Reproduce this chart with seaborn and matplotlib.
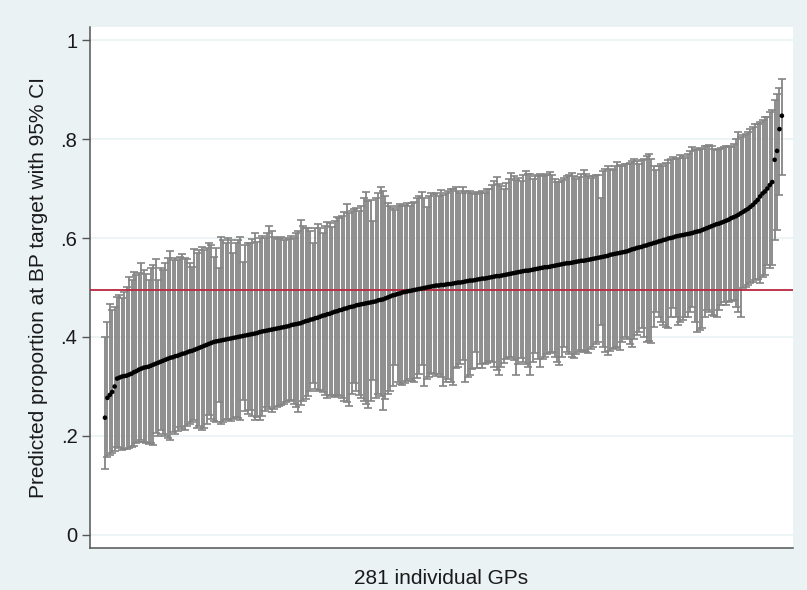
import numpy as np
import pandas as pd
import seaborn as sns
import matplotlib.pyplot as plt

# predicted proportion at BP target per GP (sorted), with 95% CI
estimate = [
    0.237, 0.277, 0.283, 0.289, 0.300, 0.316, 0.318, 0.320, 0.321, 0.322,
    0.324, 0.326, 0.329, 0.331, 0.334, 0.336, 0.338, 0.339, 0.340, 0.342,
    0.344, 0.346, 0.348, 0.350, 0.352, 0.354, 0.356, 0.358, 0.359, 0.361,
    0.362, 0.364, 0.366, 0.367, 0.369, 0.371, 0.372, 0.374, 0.376, 0.378,
    0.380, 0.382, 0.384, 0.386, 0.388, 0.390, 0.391, 0.392, 0.393, 0.394,
    0.395, 0.396, 0.397, 0.398, 0.399, 0.400, 0.401, 0.402, 0.403, 0.404,
    0.405, 0.406, 0.407, 0.408, 0.410, 0.411, 0.412, 0.413, 0.414, 0.415,
    0.416, 0.417, 0.418, 0.419, 0.420, 0.421, 0.422, 0.424, 0.425, 0.426,
    0.427, 0.428, 0.430, 0.432, 0.433, 0.435, 0.436, 0.438, 0.439, 0.441,
    0.443, 0.444, 0.446, 0.447, 0.449, 0.451, 0.452, 0.454, 0.455, 0.457,
    0.458, 0.460, 0.461, 0.462, 0.464, 0.465, 0.466, 0.467, 0.468, 0.469,
    0.470, 0.471, 0.472, 0.474, 0.475, 0.476, 0.478, 0.480, 0.482, 0.484,
    0.485, 0.487, 0.488, 0.490, 0.491, 0.492, 0.493, 0.494, 0.495, 0.496,
    0.497, 0.498, 0.499, 0.500, 0.501, 0.502, 0.503, 0.504, 0.504, 0.505,
    0.505, 0.506, 0.507, 0.507, 0.508, 0.509, 0.510, 0.510, 0.511, 0.512,
    0.513, 0.514, 0.514, 0.515, 0.516, 0.517, 0.518, 0.518, 0.519, 0.520,
    0.521, 0.522, 0.523, 0.523, 0.524, 0.525, 0.526, 0.527, 0.528, 0.529,
    0.530, 0.531, 0.532, 0.533, 0.534, 0.534, 0.535, 0.536, 0.537, 0.538,
    0.539, 0.540, 0.541, 0.541, 0.542, 0.543, 0.544, 0.545, 0.546, 0.547,
    0.548, 0.549, 0.549, 0.550, 0.551, 0.552, 0.553, 0.554, 0.554, 0.555,
    0.556, 0.557, 0.558, 0.559, 0.560, 0.561, 0.562, 0.563, 0.564, 0.566,
    0.567, 0.568, 0.569, 0.570, 0.571, 0.572, 0.573, 0.575, 0.577, 0.578,
    0.580, 0.581, 0.582, 0.584, 0.585, 0.587, 0.588, 0.590, 0.591, 0.593,
    0.594, 0.596, 0.597, 0.599, 0.600, 0.601, 0.603, 0.604, 0.605, 0.606,
    0.607, 0.608, 0.609, 0.610, 0.612, 0.613, 0.614, 0.616, 0.618, 0.620,
    0.622, 0.624, 0.626, 0.628, 0.629, 0.631, 0.633, 0.635, 0.637, 0.640,
    0.642, 0.644, 0.647, 0.650, 0.653, 0.656, 0.659, 0.663, 0.667, 0.672,
    0.677, 0.684, 0.690, 0.694, 0.700, 0.707, 0.713, 0.758, 0.776, 0.820, 0.847,
]

lower = [
    0.133, 0.158, 0.162, 0.165, 0.170, 0.178, 0.176, 0.172, 0.174, 0.174,
    0.176, 0.178, 0.180, 0.185, 0.188, 0.192, 0.188, 0.185, 0.183, 0.186,
    0.182, 0.206, 0.200, 0.212, 0.205, 0.200, 0.195, 0.192, 0.209, 0.205,
    0.210, 0.218, 0.215, 0.212, 0.220, 0.225, 0.228, 0.232, 0.216, 0.220,
    0.212, 0.216, 0.225, 0.242, 0.235, 0.230, 0.228, 0.269, 0.224, 0.228,
    0.232, 0.235, 0.231, 0.235, 0.238, 0.236, 0.232, 0.273, 0.250, 0.245,
    0.253, 0.240, 0.232, 0.238, 0.232, 0.240, 0.250, 0.259, 0.255, 0.249,
    0.255, 0.258, 0.260, 0.263, 0.265, 0.268, 0.270, 0.273, 0.265, 0.258,
    0.249, 0.262, 0.270, 0.275, 0.280, 0.290, 0.307, 0.295, 0.290, 0.293,
    0.288, 0.282, 0.277, 0.280, 0.282, 0.279, 0.282, 0.280, 0.277, 0.270,
    0.268, 0.261, 0.285, 0.307, 0.290, 0.282, 0.277, 0.270, 0.265, 0.257,
    0.270, 0.313, 0.277, 0.285, 0.280, 0.253, 0.275, 0.285, 0.290, 0.300,
    0.343, 0.310, 0.305, 0.303, 0.308, 0.312, 0.315, 0.312, 0.310, 0.318,
    0.325, 0.343, 0.301, 0.315, 0.320, 0.327, 0.325, 0.322, 0.325, 0.320,
    0.300, 0.310, 0.315, 0.310, 0.303, 0.337, 0.340, 0.345, 0.354, 0.310,
    0.320, 0.323, 0.335, 0.370, 0.337, 0.345, 0.337, 0.345, 0.348, 0.352,
    0.350, 0.340, 0.333, 0.323, 0.340, 0.348, 0.355, 0.360, 0.358, 0.354,
    0.323, 0.345, 0.357, 0.350, 0.345, 0.340, 0.323, 0.350, 0.367, 0.355,
    0.340, 0.355, 0.360, 0.365, 0.368, 0.370, 0.360, 0.350, 0.343, 0.360,
    0.380, 0.370, 0.365, 0.360, 0.357, 0.365, 0.370, 0.374, 0.372, 0.370,
    0.367, 0.375, 0.380, 0.385, 0.390, 0.424, 0.380, 0.370, 0.364, 0.372,
    0.375, 0.378, 0.380, 0.374, 0.390, 0.400, 0.395, 0.385, 0.380, 0.395,
    0.405, 0.410, 0.418, 0.400, 0.390, 0.392, 0.388, 0.420, 0.451, 0.440,
    0.431, 0.425, 0.420, 0.418, 0.440, 0.458, 0.440, 0.424, 0.430, 0.435,
    0.440, 0.441, 0.450, 0.461, 0.430, 0.411, 0.415, 0.418, 0.440, 0.455,
    0.450, 0.445, 0.442, 0.441, 0.455, 0.465, 0.471, 0.465, 0.470, 0.472,
    0.475, 0.460, 0.450, 0.441, 0.498, 0.502, 0.505, 0.509, 0.512, 0.515,
    0.518, 0.509, 0.522, 0.525, 0.545, 0.540, 0.545, 0.596, 0.616, 0.687, 0.727,
]

upper = [
    0.400, 0.430, 0.467, 0.455, 0.460, 0.480, 0.485, 0.478, 0.490, 0.502,
    0.522, 0.515, 0.532, 0.525, 0.530, 0.549, 0.535, 0.528, 0.515, 0.540,
    0.545, 0.557, 0.515, 0.540, 0.535, 0.550, 0.560, 0.574, 0.556, 0.560,
    0.555, 0.562, 0.567, 0.560, 0.557, 0.550, 0.542, 0.577, 0.570, 0.575,
    0.582, 0.575, 0.580, 0.590, 0.585, 0.562, 0.580, 0.539, 0.603, 0.595,
    0.590, 0.600, 0.595, 0.570, 0.590, 0.596, 0.602, 0.552, 0.585, 0.590,
    0.590, 0.598, 0.610, 0.592, 0.600, 0.605, 0.600, 0.610, 0.624, 0.615,
    0.603, 0.600, 0.598, 0.602, 0.596, 0.600, 0.598, 0.605, 0.600, 0.610,
    0.615, 0.636, 0.625, 0.620, 0.620, 0.615, 0.590, 0.620, 0.628, 0.620,
    0.610, 0.625, 0.633, 0.630, 0.622, 0.635, 0.642, 0.640, 0.645, 0.653,
    0.668, 0.650, 0.655, 0.658, 0.660, 0.655, 0.665, 0.680, 0.692, 0.675,
    0.677, 0.635, 0.680, 0.690, 0.703, 0.694, 0.685, 0.671, 0.665, 0.660,
    0.657, 0.665, 0.668, 0.665, 0.667, 0.670, 0.665, 0.670, 0.673, 0.680,
    0.685, 0.692, 0.680, 0.663, 0.685, 0.690, 0.688, 0.690, 0.685, 0.696,
    0.687, 0.690, 0.695, 0.698, 0.700, 0.703, 0.695, 0.690, 0.703, 0.695,
    0.690, 0.694, 0.690, 0.688, 0.692, 0.691, 0.695, 0.690, 0.699, 0.700,
    0.707, 0.715, 0.723, 0.710, 0.705, 0.699, 0.712, 0.720, 0.732, 0.725,
    0.718, 0.721, 0.715, 0.728, 0.736, 0.730, 0.729, 0.720, 0.725, 0.728,
    0.729, 0.725, 0.728, 0.730, 0.734, 0.728, 0.720, 0.714, 0.714, 0.718,
    0.722, 0.725, 0.728, 0.731, 0.725, 0.720, 0.724, 0.730, 0.737, 0.730,
    0.725, 0.721, 0.725, 0.727, 0.727, 0.680, 0.735, 0.740, 0.745, 0.740,
    0.737, 0.745, 0.754, 0.748, 0.745, 0.749, 0.750, 0.752, 0.755, 0.760,
    0.755, 0.750, 0.758, 0.760, 0.765, 0.770, 0.760, 0.745, 0.737, 0.745,
    0.749, 0.745, 0.752, 0.758, 0.760, 0.764, 0.760, 0.762, 0.768, 0.765,
    0.762, 0.770, 0.775, 0.784, 0.780, 0.778, 0.782, 0.780, 0.785, 0.786,
    0.788, 0.785, 0.780, 0.778, 0.780, 0.782, 0.784, 0.785, 0.786, 0.784,
    0.790, 0.800, 0.815, 0.805, 0.808, 0.810, 0.815, 0.820, 0.825, 0.830,
    0.830, 0.835, 0.838, 0.844, 0.845, 0.855, 0.859, 0.879, 0.890, 0.903, 0.921,
]

target = 0.495
y_ticks = [0, 0.2, 0.4, 0.6, 0.8, 1]
y_tick_labels = ["0", ".2", ".4", ".6", ".8", "1"]

gp = pd.DataFrame({
    "rank": np.arange(1, len(estimate) + 1),
    "est": estimate,
    "lo": lower,
    "hi": upper,
})

bg = "#EAF2F3"
sns.set_style("white")
plt.rcParams["font.family"] = ["Liberation Sans", "DejaVu Sans"]

fig = plt.figure(figsize=(8.07, 5.90), dpi=100, facecolor=bg)
ax = fig.add_axes([90 / 807, 1 - 548 / 590, 703 / 807, 521 / 590])
ax.set_facecolor("white")

# grid lines
for t in y_ticks:
    ax.axhline(t, color=bg, linewidth=1.2, zorder=0)

# CI bars
ax.errorbar(gp["rank"], gp["est"],
            yerr=[gp["est"] - gp["lo"], gp["hi"] - gp["est"]],
            fmt="none", ecolor="#858585", elinewidth=1.3,
            capsize=2.8, capthick=1.2, zorder=2)

ax.axhline(target, color="#B8283E", linewidth=1.3, zorder=3)

sns.scatterplot(data=gp, x="rank", y="est", color="black", s=11,
                edgecolor="none", ax=ax, zorder=4, legend=False)

ax.set_xlim(-5.2, 285.6)
ax.set_ylim(-0.0263, 1.0263)
ax.set_yticks(y_ticks)
ax.set_yticklabels(y_tick_labels, fontsize=14.5)
ax.set_xticks([])
ax.tick_params(axis="y", left=True, length=6, width=1, color="#555555",
               pad=3, labelcolor="#1a1a1a")

for side in ["top", "right"]:
    ax.spines[side].set_visible(False)
for side in ["left", "bottom"]:
    ax.spines[side].set_color("#555555")
    ax.spines[side].set_linewidth(1.1)

ax.set_xlabel("281 individual GPs", fontsize=15, color="#1a1a1a", labelpad=15)
ax.set_ylabel("Predicted proportion at BP target with 95% CI", fontsize=15,
              color="#1a1a1a", labelpad=9)

fig.savefig("out.png", dpi=100, facecolor=bg)
